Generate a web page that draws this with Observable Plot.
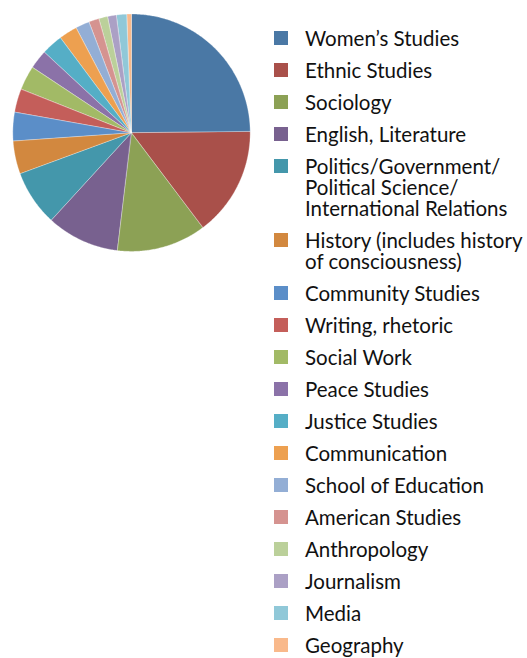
<!DOCTYPE html>
<html>
<head>
<meta charset="utf-8">
<script src="https://cdn.jsdelivr.net/npm/d3@7"></script>
<script src="https://cdn.jsdelivr.net/npm/@observablehq/plot@0.6"></script>
<style>
  html, body { margin: 0; padding: 0; background: #fff; }
  #wrap { position: relative; width: 527px; height: 658px; overflow: hidden; }
  #pie { position: absolute; left: 0; top: 0; }
  #legend { position: absolute; left: 274px; top: 27.5px; font-family: Lato, "Open Sans", sans-serif; font-size: 20.5px; color: #111; }
  .item { position: relative; padding-left: 31px; margin-bottom: 11px; white-space: nowrap; }
  .line { display: block; height: 21px; line-height: 21px; overflow: visible; }
  .sw { position: absolute; left: 0; top: 3.5px; width: 14px; height: 14px; }
</style>
</head>
<body>
<div id="wrap"><div id="pie"></div><div id="legend"></div></div>
<script>
const categories = [
  "Women’s Studies", "Ethnic Studies", "Sociology", "English, Literature",
  "Politics/Government/\nPolitical Science/\nInternational Relations",
  "History (includes history\nof consciousness)",
  "Community Studies", "Writing, rhetoric", "Social Work", "Peace Studies",
  "Justice Studies", "Communication", "School of Education", "American Studies",
  "Anthropology", "Journalism", "Media", "Geography"
];
const values = [24.9, 14.9, 12.2, 9.9, 7.6, 4.5, 3.9, 3.2, 3.3, 2.6, 2.9, 2.5, 1.9, 1.4, 1.2, 1.2, 1.4, 0.6];
const colors = [
  "#4A78A5", "#A9504A", "#8CA155", "#78618F", "#4497AB", "#D2883F",
  "#5B8EC8", "#C45E5A", "#A2BA66", "#8B72A8", "#55AEC6", "#EDA050",
  "#93AED5", "#D59390", "#BBD09A", "#ABA0C5", "#90C8D8", "#F9B98B"
];

const pie = d3.pie().sort(null).value(d => d)(values);
const rows = [];
pie.forEach((p, i) => {
  const n = Math.max(2, Math.ceil((p.endAngle - p.startAngle) / 0.01));
  for (let k = 0; k <= n; k++) {
    const a = p.startAngle + (p.endAngle - p.startAngle) * k / n;
    rows.push({cat: categories[i], cx: 0, cy: 0, x: Math.sin(a), y: -Math.cos(a)});
  }
});

const chart = Plot.plot({
  width: 264, height: 264,
  margin: 0,
  x: {domain: [-1, 1], range: [12.8, 250.2], axis: null},
  y: {domain: [-1, 1], range: [14, 251.4], axis: null},
  color: {domain: categories, range: colors},
  marks: [
    Plot.area(rows, {x1: "cx", y1: "cy", x2: "x", y2: "y", z: "cat", fill: "cat",
      stroke: "white", strokeWidth: 0.6, strokeOpacity: 0.5})
  ]
});
document.getElementById("pie").appendChild(chart);

const legend = document.getElementById("legend");
categories.forEach((c, i) => {
  const item = document.createElement("div");
  item.className = "item";
  const sw = document.createElement("div");
  sw.className = "sw";
  sw.style.background = colors[i];
  item.appendChild(sw);
  c.split("\n").forEach(line => {
    const l = document.createElement("div");
    l.className = "line";
    l.textContent = line;
    item.appendChild(l);
  });
  legend.appendChild(item);
});
</script>
</body>
</html>
